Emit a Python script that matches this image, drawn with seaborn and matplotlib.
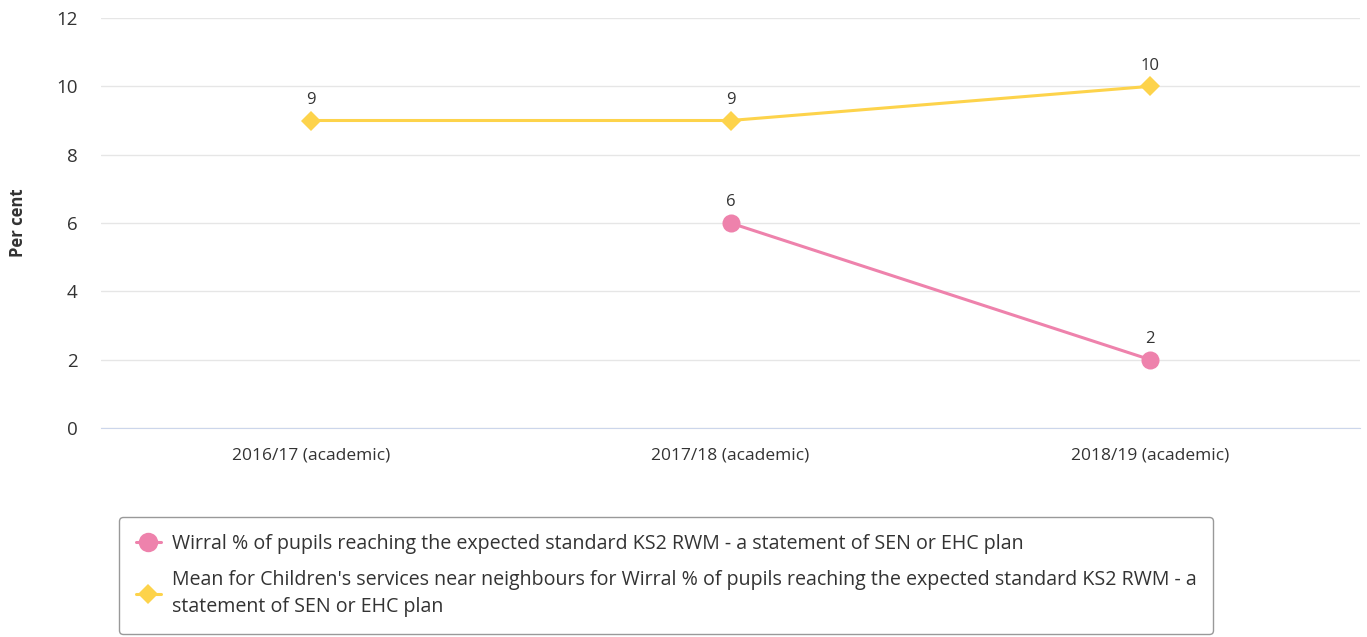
import matplotlib
matplotlib.use("Agg")
import matplotlib.pyplot as plt
from matplotlib.lines import Line2D
import numpy as np
import pandas as pd
import seaborn as sns

# data
years = ["2016/17 (academic)", "2017/18 (academic)", "2018/19 (academic)"]
wirral = [np.nan, 6, 2]
neighbours = [9, 9, 10]
wirral_name = "Wirral % of pupils reaching the expected standard KS2 RWM - a statement of SEN or EHC plan"
neighbours_name = ("Mean for Children's services near neighbours for Wirral % of pupils reaching the expected standard KS2 RWM - a\n"
                   "statement of SEN or EHC plan")

pink = "#EE82AC"
yellow = "#FDD34B"

sns.set_style("white")
plt.rcParams['font.family'] = ['Open Sans', 'DejaVu Sans']

df = pd.DataFrame({
    "pos": list(range(len(years))) * 2,
    "value": wirral + neighbours,
    "series": ["wirral"] * len(years) + ["neighbours"] * len(years),
})

fig = plt.figure(figsize=(13.67, 6.37), dpi=100)
ax = fig.add_axes([101 / 1367, 1 - 428 / 637, 1259 / 1367, 410 / 637])

for name, color, marker, size in [("wirral", pink, "o", 13), ("neighbours", yellow, "D", 10)]:
    sub = df[df["series"] == name].dropna()
    sns.lineplot(data=sub, x="pos", y="value", ax=ax, color=color, marker=marker,
                 markersize=size, markeredgewidth=0, linewidth=2.2, legend=False)
    for x, y in zip(sub["pos"], sub["value"]):
        ax.annotate(f"{y:g}", (x, y), xytext=(0, 15), textcoords="offset points",
                    ha="center", va="center", fontsize=12, color="#333333")

ax.set_xlim(-0.5, len(years) - 0.5)
ax.set_ylim(0, 12)
ax.set_xticks(range(len(years)))
ax.set_xticklabels(years, fontsize=12.5, color="#333333")
ax.set_yticks(range(0, 13, 2))
ax.tick_params(axis="y", labelsize=13.5, labelcolor="#333333", length=0, pad=17)
ax.tick_params(axis="x", length=0, pad=14)
ax.yaxis.grid(True, color="#e6e6e6", linewidth=1)
ax.set_axisbelow(True)
for s in ["top", "right", "left"]:
    ax.spines[s].set_visible(False)
ax.spines["bottom"].set_color("#ccd6eb")
ax.set_xlabel("")
ax.set_ylabel("Per cent", fontsize=12, fontweight="bold", color="#333333", labelpad=21)

handles = [
    Line2D([], [], color=pink, marker="o", markersize=14, markeredgewidth=0, linewidth=2.2),
    Line2D([], [], color=yellow, marker="D", markersize=10, markeredgewidth=0, linewidth=2.2),
]
leg = fig.legend(handles, [wirral_name, neighbours_name], loc="upper left",
                 bbox_to_anchor=(119 / 1367, 1 - 517 / 637), borderaxespad=0, fontsize=14.1,
                 frameon=True, fancybox=True, edgecolor="#999999", framealpha=1,
                 handlelength=1.3, handletextpad=0.55, borderpad=0.85, labelspacing=0.85,
                 labelcolor="#333333")
for t in leg.get_texts():
    t.set_linespacing(1.45)
leg.get_frame().set_linewidth(1)

fig.savefig("out.png", dpi=100)
